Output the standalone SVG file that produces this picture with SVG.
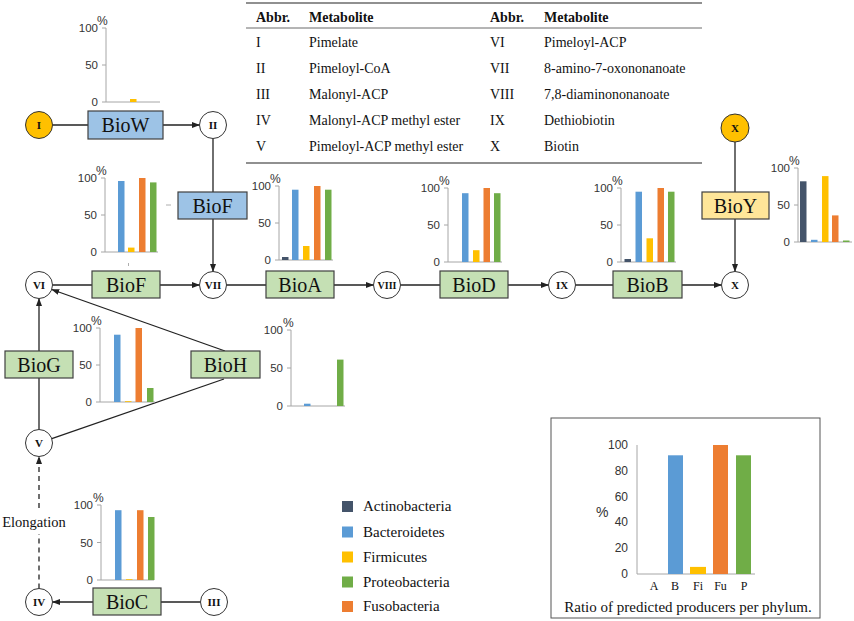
<svg xmlns="http://www.w3.org/2000/svg" width="854" height="621" viewBox="0 0 854 621">
<style>
.bx{stroke:#404040;stroke-width:1.2}
.g{fill:#C5E0B4}.b{fill:#9DC3E6}.y{fill:#FFE699}
.c{fill:#fff;stroke:#333;stroke-width:1}
.cy{fill:#FFC000;stroke:#333;stroke-width:1}
.lb{font-family:'Liberation Serif','DejaVu Serif',serif;font-size:20px;text-anchor:middle;fill:#111}
.nl{font-family:'Liberation Serif','DejaVu Serif',serif;font-weight:bold;font-size:11px;text-anchor:middle;fill:#111}
.cn{stroke:#222;stroke-width:1.3;fill:none}
.ax{stroke:#A6A6A6;stroke-width:1;fill:none}
.tk{font-family:'Liberation Sans',sans-serif;font-size:11.5px;fill:#333;text-anchor:end}
.pc{font-family:'Liberation Sans',sans-serif;font-size:12px;fill:#333}
.tx{font-family:'Liberation Serif','DejaVu Serif',serif;font-size:14px;fill:#111}
.th{font-family:'Liberation Serif','DejaVu Serif',serif;font-size:14px;font-weight:bold;fill:#111}
.lg{font-family:'Liberation Serif','DejaVu Serif',serif;font-size:15px;fill:#111}
.cat{font-family:'Liberation Serif','DejaVu Serif',serif;font-size:12px;fill:#111;text-anchor:middle}
.A{fill:#44546A}.B{fill:#5B9BD5}.F{fill:#FFC000}.U{fill:#ED7D31}.P{fill:#70AD47}
</style>
<defs>
<marker id="ar" markerUnits="userSpaceOnUse" markerWidth="8" markerHeight="6" refX="7.5" refY="3" orient="auto"><path d="M0,0 L8,3 L0,6 z" fill="#222"/></marker>
</defs>

<g id="table">
<line x1="246" y1="3" x2="702" y2="3" stroke="#222" stroke-width="1.2"/>
<line x1="246" y1="28" x2="702" y2="28" stroke="#444" stroke-width="0.8"/>
<line x1="246" y1="163" x2="702" y2="163" stroke="#222" stroke-width="1.2"/>
<text class="th" x="256" y="22">Abbr.</text><text class="th" x="309" y="22">Metabolite</text>
<text class="th" x="490" y="22">Abbr.</text><text class="th" x="544" y="22">Metabolite</text>
<text class="tx" x="256" y="47">I</text><text class="tx" x="309" y="47">Pimelate</text>
<text class="tx" x="256" y="73">II</text><text class="tx" x="309" y="73">Pimeloyl-CoA</text>
<text class="tx" x="256" y="99">III</text><text class="tx" x="309" y="99">Malonyl-ACP</text>
<text class="tx" x="256" y="125">IV</text><text class="tx" x="309" y="125">Malonyl-ACP methyl ester</text>
<text class="tx" x="256" y="151">V</text><text class="tx" x="309" y="151">Pimeloyl-ACP methyl ester</text>
<text class="tx" x="490" y="47">VI</text><text class="tx" x="544" y="47">Pimeloyl-ACP</text>
<text class="tx" x="490" y="73">VII</text><text class="tx" x="544" y="73">8-amino-7-oxononanoate</text>
<text class="tx" x="490" y="99">VIII</text><text class="tx" x="544" y="99">7,8-diaminononanoate</text>
<text class="tx" x="490" y="125">IX</text><text class="tx" x="544" y="125">Dethiobiotin</text>
<text class="tx" x="490" y="151">X</text><text class="tx" x="544" y="151">Biotin</text>
</g>

<g id="connectors">
<line class="cn" x1="52.5" y1="125" x2="88" y2="125"/>
<line class="cn" x1="163" y1="125" x2="199.5" y2="125" marker-end="url(#ar)"/>
<line class="cn" x1="213" y1="138.5" x2="213" y2="192"/>
<line class="cn" x1="213" y1="219" x2="213" y2="271.5" marker-end="url(#ar)"/>
<line class="cn" x1="52.5" y1="285" x2="92" y2="285"/>
<line class="cn" x1="160" y1="285" x2="199.5" y2="285" marker-end="url(#ar)"/>
<line class="cn" x1="226.5" y1="285" x2="266" y2="285"/>
<line class="cn" x1="334" y1="285" x2="373.5" y2="285" marker-end="url(#ar)"/>
<line class="cn" x1="400.5" y1="285" x2="440" y2="285"/>
<line class="cn" x1="508" y1="285" x2="548.5" y2="285" marker-end="url(#ar)"/>
<line class="cn" x1="575.5" y1="285" x2="613" y2="285"/>
<line class="cn" x1="682" y1="285" x2="721.5" y2="285" marker-end="url(#ar)"/>
<line class="cn" x1="735" y1="142" x2="735" y2="192"/>
<line class="cn" x1="735" y1="219" x2="735" y2="271.5" marker-end="url(#ar)"/>
<line class="cn" x1="39" y1="429.5" x2="39" y2="378"/>
<line class="cn" x1="39" y1="351" x2="39" y2="298.5" marker-end="url(#ar)"/>
<line class="cn" x1="51.8" y1="438.6" x2="224" y2="379"/>
<line class="cn" x1="225" y1="351" x2="51.7" y2="289.5" marker-end="url(#ar)"/>
<path class="cn" d="M39,588.5 V534 M39,508 V456.5" stroke-dasharray="5,4" marker-end="url(#ar)"/>
<line class="cn" x1="200.5" y1="602" x2="161" y2="602"/>
<line class="cn" x1="93" y1="602" x2="52.5" y2="602" marker-end="url(#ar)"/>
<line x1="166" y1="205" x2="171" y2="205" stroke="#999" stroke-width="0.8"/>
<line x1="128.5" y1="263" x2="128.5" y2="266" stroke="#999" stroke-width="0.8"/>
</g>
<text class="lg" x="34" y="527" text-anchor="middle" style="font-size:14.5px">Elongation</text>

<g id="node-I"><circle class="cy" cx="39" cy="125" r="13.5"/><text class="nl" x="39" y="129">I</text></g>
<g id="node-II"><circle class="c" cx="213" cy="125" r="13.5"/><text class="nl" x="213" y="129">II</text></g>
<g id="node-III"><circle class="c" cx="214" cy="602" r="13.5"/><text class="nl" x="214" y="606">III</text></g>
<g id="node-IV"><circle class="c" cx="39" cy="602" r="13.5"/><text class="nl" x="39" y="606">IV</text></g>
<g id="node-V"><circle class="c" cx="39" cy="443" r="13.5"/><text class="nl" x="39" y="447">V</text></g>
<g id="node-VI"><circle class="c" cx="39" cy="285" r="13.5"/><text class="nl" x="39" y="289">VI</text></g>
<g id="node-VII"><circle class="c" cx="213" cy="285" r="13.5"/><text class="nl" x="213" y="289">VII</text></g>
<g id="node-VIII"><circle class="c" cx="387" cy="285" r="13.5"/><text class="nl" x="387" y="289" style="font-size:10px">VIII</text></g>
<g id="node-IX"><circle class="c" cx="562" cy="285" r="13.5"/><text class="nl" x="562" y="289">IX</text></g>
<g id="node-X"><circle class="c" cx="735" cy="285" r="13.5"/><text class="nl" x="735" y="289">X</text></g>
<g id="node-X-top"><circle class="cy" cx="735" cy="128" r="14"/><text class="nl" x="735" y="132">X</text></g>

<g id="BioW"><rect class="bx b" x="88" y="111" width="75" height="28"/><text class="lb" x="125.5" y="132">BioW</text></g>
<g id="BioF-blue"><rect class="bx b" x="178" y="192" width="69" height="27"/><text class="lb" x="212.5" y="212.5">BioF</text></g>
<g id="BioF"><rect class="bx g" x="92" y="271" width="68" height="27"/><text class="lb" x="126" y="291.5">BioF</text></g>
<g id="BioA"><rect class="bx g" x="266" y="271" width="68" height="27"/><text class="lb" x="300" y="291.5">BioA</text></g>
<g id="BioD"><rect class="bx g" x="440" y="271" width="68" height="27"/><text class="lb" x="474" y="291.5">BioD</text></g>
<g id="BioB"><rect class="bx g" x="613" y="271" width="69" height="27"/><text class="lb" x="647.5" y="291.5">BioB</text></g>
<g id="BioY"><rect class="bx y" x="702" y="192" width="67" height="27"/><text class="lb" x="735.5" y="212.5">BioY</text></g>
<g id="BioG"><rect class="bx g" x="5" y="351" width="68" height="27"/><text class="lb" x="39" y="371.5">BioG</text></g>
<g id="BioH"><rect class="bx g" x="191" y="351" width="69" height="27"/><text class="lb" x="225.5" y="371.5">BioH</text></g>
<g id="BioC"><rect class="bx g" x="93" y="588" width="68" height="27"/><text class="lb" x="127" y="608.5">BioC</text></g>

<g id="chart-W">
<path class="ax" d="M106,28 V102 H160 M102,28 H106 M102,65 H106 M102,102 H106"/>
<text class="tk" x="98" y="32">100</text><text class="tk" x="98" y="69">50</text><text class="tk" x="98" y="106">0</text><text class="pc" x="97" y="25">%</text>
<rect class="F" x="130" y="99" width="6.5" height="3"/>
</g>
<g id="chart-F">
<path class="ax" d="M105,178 V252 H158 M101,178 H105 M101,215 H105 M101,252 H105"/>
<text class="tk" x="97" y="182">100</text><text class="tk" x="97" y="219">50</text><text class="tk" x="97" y="256">0</text><text class="pc" x="96" y="175">%</text>
<rect class="B" x="118" y="181" width="6.5" height="71"/>
<rect class="F" x="128" y="247.6" width="6.5" height="4.4"/>
<rect class="U" x="139" y="178" width="6.5" height="74"/>
<rect class="P" x="150" y="182.4" width="6.5" height="69.6"/>
</g>
<g id="chart-A">
<path class="ax" d="M279,186 V260 H333 M275,186 H279 M275,223 H279 M275,260 H279"/>
<text class="tk" x="271" y="190">100</text><text class="tk" x="271" y="227">50</text><text class="tk" x="271" y="264">0</text><text class="pc" x="270" y="183">%</text>
<rect class="A" x="282" y="257" width="6.5" height="3"/>
<rect class="B" x="292" y="189.7" width="6.5" height="70.3"/>
<rect class="F" x="303" y="246" width="6.5" height="14"/>
<rect class="U" x="314" y="186" width="6.5" height="74"/>
<rect class="P" x="325" y="189.7" width="6.5" height="70.3"/>
</g>
<g id="chart-D">
<path class="ax" d="M448,188 V262 H502 M444,188 H448 M444,225 H448 M444,262 H448"/>
<text class="tk" x="440" y="192">100</text><text class="tk" x="440" y="229">50</text><text class="tk" x="440" y="266">0</text><text class="pc" x="439" y="185">%</text>
<rect class="B" x="462" y="193.2" width="6.5" height="68.8"/>
<rect class="F" x="473" y="250.2" width="6.5" height="11.8"/>
<rect class="U" x="483.5" y="188" width="6.5" height="74"/>
<rect class="P" x="494" y="193.2" width="6.5" height="68.8"/>
</g>
<g id="chart-B">
<path class="ax" d="M621,188 V262 H676 M617,188 H621 M617,225 H621 M617,262 H621"/>
<text class="tk" x="613" y="192">100</text><text class="tk" x="613" y="229">50</text><text class="tk" x="613" y="266">0</text><text class="pc" x="612" y="185">%</text>
<rect class="A" x="624.5" y="259" width="6.5" height="3"/>
<rect class="B" x="635.5" y="191.7" width="6.5" height="70.3"/>
<rect class="F" x="646.5" y="238.3" width="6.5" height="23.7"/>
<rect class="U" x="657.5" y="188" width="6.5" height="74"/>
<rect class="P" x="668" y="191.7" width="6.5" height="70.3"/>
</g>
<g id="chart-Y">
<path class="ax" d="M798,168 V242 H852 M794,168 H798 M794,205 H798 M794,242 H798"/>
<text class="tk" x="790" y="172">100</text><text class="tk" x="790" y="209">50</text><text class="tk" x="790" y="246">0</text><text class="pc" x="789" y="165">%</text>
<rect class="A" x="800" y="181.3" width="6.5" height="60.7"/>
<rect class="B" x="811" y="239.8" width="6.5" height="2.2"/>
<rect class="F" x="822" y="176.1" width="6.5" height="65.9"/>
<rect class="U" x="832" y="215.4" width="6.5" height="26.6"/>
<rect class="P" x="843" y="240.5" width="6.5" height="1.5"/>
</g>
<g id="chart-G">
<path class="ax" d="M100,328 V402 H155 M96,328 H100 M96,365 H100 M96,402 H100"/>
<text class="tk" x="92" y="332">100</text><text class="tk" x="92" y="369">50</text><text class="tk" x="92" y="406">0</text><text class="pc" x="91" y="325">%</text>
<rect class="B" x="114" y="334.7" width="6.5" height="67.3"/>
<rect class="F" x="125" y="401.2" width="6.5" height="0.8"/>
<rect class="U" x="135.5" y="328" width="6.5" height="74"/>
<rect class="P" x="147" y="388" width="6.5" height="14"/>
</g>
<g id="chart-H">
<path class="ax" d="M291,330 V406 H345 M287,330 H291 M287,368 H291 M287,406 H291"/>
<text class="tk" x="283" y="334">100</text><text class="tk" x="283" y="372">50</text><text class="tk" x="283" y="410">0</text><text class="pc" x="283" y="327">%</text>
<rect class="B" x="304" y="403.7" width="6.5" height="2.3"/>
<rect class="P" x="337" y="359.6" width="6.5" height="46.4"/>
</g>
<g id="chart-C">
<path class="ax" d="M101,505 V580 H154 M97,505 H101 M97,542.5 H101 M97,580 H101"/>
<text class="tk" x="93" y="509">100</text><text class="tk" x="93" y="546.5">50</text><text class="tk" x="93" y="584">0</text><text class="pc" x="93" y="502">%</text>
<rect class="B" x="115" y="510.2" width="6.5" height="69.8"/>
<rect class="F" x="126" y="579.2" width="6.5" height="0.8"/>
<rect class="U" x="137" y="510.2" width="6.5" height="69.8"/>
<rect class="P" x="148" y="517" width="6.5" height="63"/>
</g>

<g id="legend">
<rect class="A" x="342" y="501" width="11" height="11"/><text class="lg" x="363" y="511">Actinobacteria</text>
<rect class="B" x="342" y="526.5" width="11" height="11"/><text class="lg" x="363" y="536.5">Bacteroidetes</text>
<rect class="F" x="342" y="551.5" width="11" height="11"/><text class="lg" x="363" y="561.5">Firmicutes</text>
<rect class="P" x="342" y="576.5" width="11" height="11"/><text class="lg" x="363" y="586.5">Proteobacteria</text>
<rect class="U" x="342" y="601" width="11" height="11"/><text class="lg" x="363" y="611">Fusobacteria</text>
</g>

<g id="phylum-box">
<rect x="551" y="418" width="269" height="200" fill="#fff" stroke="#555" stroke-width="1"/>
<path class="ax" d="M637,445 V574 H755"/>
<text class="tk" x="628" y="449" style="font-size:12px">100</text>
<text class="tk" x="628" y="474.8" style="font-size:12px">80</text>
<text class="tk" x="628" y="500.6" style="font-size:12px">60</text>
<text class="tk" x="628" y="526.4" style="font-size:12px">40</text>
<text class="tk" x="628" y="552.2" style="font-size:12px">20</text>
<text class="tk" x="628" y="578" style="font-size:12px">0</text>
<text class="pc" x="596" y="517" style="font-size:14px">%</text>
<rect class="B" x="668" y="455.3" width="15" height="118.7"/>
<rect class="F" x="690" y="566.9" width="16" height="7.1"/>
<rect class="U" x="713" y="445" width="15" height="129"/>
<rect class="P" x="736" y="455.3" width="15" height="118.7"/>
<text class="cat" x="654" y="590">A</text>
<text class="cat" x="675" y="590">B</text>
<text class="cat" x="698" y="590">Fi</text>
<text class="cat" x="720.5" y="590">Fu</text>
<text class="cat" x="744" y="590">P</text>
<text class="lg" x="688" y="612" text-anchor="middle">Ratio of predicted producers per phylum.</text>
</g>
</svg>
